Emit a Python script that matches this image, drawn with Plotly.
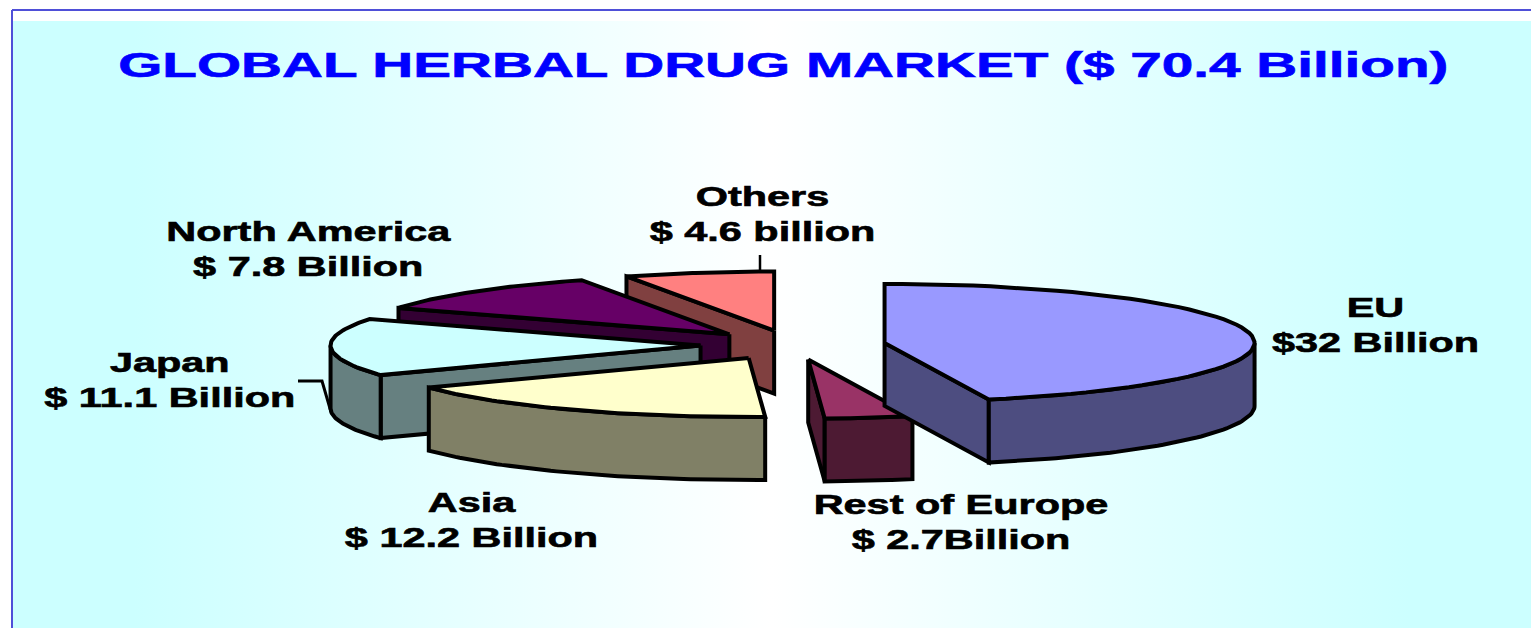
import numpy as np
import plotly.graph_objects as go

# --- data ---
regions = ["EU", "Rest of Europe", "Asia", "Japan", "North America", "Others"]
values = [32, 2.7, 12.2, 11.1, 7.8, 4.6]
label_lines = ["EU<br>$32 Billion", "Rest of Europe<br>$ 2.7Billion", "Asia<br>$ 12.2 Billion",
               "Japan<br>$ 11.1 Billion", "North America<br>$ 7.8 Billion", "Others<br>$ 4.6 billion"]
title_text = "GLOBAL HERBAL DRUG MARKET ($ 70.4 Billion)"

# --- styles ---
top_colors = ["#9999FF", "#993366", "#FFFFCC", "#CCFFFF", "#660066", "#FF8080"]
side_colors = ["#4D4D80", "#4D1A33", "#808066", "#668080", "#330033", "#804040"]
label_x = [1375, 961, 471, 170, 309, 762]
label_y = [325, 522, 520, 380, 249, 214]

# --- projection of the tilted, exploded pie onto the pixel-sized axes ---
CX, CY, RX, RY, DEPTH, PULL = 793, 345, 370, 59, 63, 0.25
LW = 4
draw_order = [5, 4, 3, 2, 1, 0]

total = sum(values)
edges = np.concatenate([[0], np.cumsum(values)]) / total * 2 * np.pi


def rim(apex, a0, a1, n=60):
    t = np.linspace(a0, a1, n)
    return apex[0] + RX * np.sin(t), apex[1] - RY * np.cos(t)


def poly(fig, xs, ys, color, name):
    fig.add_trace(go.Scatter(x=list(xs) + [xs[0]], y=list(ys) + [ys[0]], mode="lines", fill="toself",
                             fillcolor=color, line=dict(color="black", width=LW, shape="linear"),
                             hoverinfo="text", text=name, showlegend=False))


fig = go.Figure()

# background panel with horizontal gradient
fig.add_trace(go.Scatter(x=[12, 1531, 1531, 12, 12], y=[21, 21, 628, 628, 21], mode="lines", fill="toself",
                         line=dict(width=0), hoverinfo="skip", showlegend=False,
                         fillgradient=dict(type="horizontal",
                                           colorscale=[[0, "#CCFFFF"], [0.08, "#CCFFFF"], [0.5, "#FFFFFF"],
                                                       [0.92, "#CCFFFF"], [1, "#CCFFFF"]])))

for i in draw_order:
    a0, a1 = edges[i], edges[i + 1]
    mid = (a0 + a1) / 2
    apex = (CX + PULL * RX * np.sin(mid), CY - PULL * RY * np.cos(mid))
    name = f"{regions[i]}: {values[i]}"
    # radial wall facing the viewer
    if np.sin(a1) > 1e-6:
        ex, ey = rim(apex, a1, a1, 1)
        poly(fig, [apex[0], ex[0], ex[0], apex[0]], [apex[1], ey[0], ey[0] + DEPTH, apex[1] + DEPTH], side_colors[i], name)
    if np.sin(a0) < -1e-6:
        ex, ey = rim(apex, a0, a0, 1)
        poly(fig, [apex[0], ex[0], ex[0], apex[0]], [apex[1], ey[0], ey[0] + DEPTH, apex[1] + DEPTH], side_colors[i], name)
    # outer rim wall: the part on the near half of the ellipse
    lo, hi = max(a0, np.pi / 2), min(a1, 3 * np.pi / 2)
    if hi > lo:
        rx, ry = rim(apex, lo, hi)
        poly(fig, list(rx) + list(rx[::-1]), list(ry) + list((ry + DEPTH)[::-1]), side_colors[i], name)
    # top face
    tx, ty = rim(apex, a0, a1)
    poly(fig, [apex[0]] + list(tx), [apex[1]] + list(ty), top_colors[i], name)

# leader lines
fig.add_trace(go.Scatter(x=[298, 322, 331], y=[381, 381, 412], mode="lines", line=dict(color="black", width=3),
                         hoverinfo="skip", showlegend=False))
fig.add_trace(go.Scatter(x=[760, 760], y=[255, 270], mode="lines", line=dict(color="black", width=2.5),
                         hoverinfo="skip", showlegend=False))

FONT = "Liberation Sans"
for txt, x, y in zip(label_lines, label_x, label_y):
    fig.add_annotation(x=x, y=y, xref="x", yref="y", text=f"<b>{txt}</b>", showarrow=False, align="center",
                       font=dict(family=FONT, size=27, color="black"), xanchor="center", yanchor="middle")
fig.add_annotation(x=783, y=64, xref="x", yref="y", text=f"<b>{title_text}</b>", showarrow=False,
                   font=dict(family=FONT, size=36, color="#0000FF"), xanchor="center", yanchor="middle")

# frame lines of the slide
fig.add_shape(type="line", x0=12, x1=1531, y0=10, y1=10, line=dict(color="#4F4FD8", width=2), xref="x", yref="y")
fig.add_shape(type="line", x0=12, x1=12, y0=10, y1=628, line=dict(color="#4F4FD8", width=2), xref="x", yref="y")

fig.update_layout(width=1531, height=628, margin=dict(l=0, r=0, t=0, b=0), autosize=False,
                  paper_bgcolor="white", plot_bgcolor="white", showlegend=False,
                  xaxis=dict(range=[0, 1531], visible=False, fixedrange=True),
                  yaxis=dict(range=[628, 0], visible=False, fixedrange=True))

# page margin off; reference lettering is horizontally stretched, heavy Arial
post = """
document.body.style.margin = '0';
document.querySelectorAll('.annotation-text').forEach(function (t) {
  var b = t.getBBox(), c = b.x + b.width / 2;
  var title = t.textContent.indexOf('GLOBAL') === 0;
  var s = title ? 1.575 : 1.535;
  t.setAttribute('transform', 'translate(' + c + ',0) scale(' + s + ',1) translate(' + (-c) + ',0)');
  t.style.stroke = title ? '#0000FF' : '#000000';
  t.style.strokeWidth = '0.6px';
});
"""
fig.write_html("out.html", config={"displayModeBar": False}, post_script=post)
